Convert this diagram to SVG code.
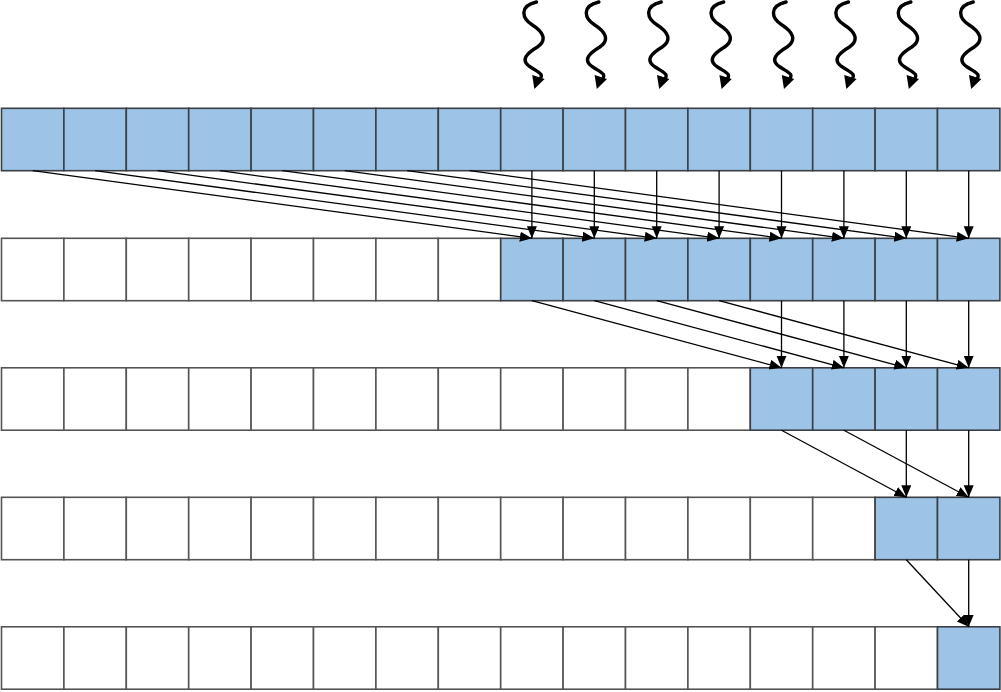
<svg xmlns="http://www.w3.org/2000/svg" xmlns:xlink="http://www.w3.org/1999/xlink" width="1001" height="692" viewBox="0 0 1001 692">
<style>
.b{fill:#9DC3E6;stroke:#3a3f46;stroke-width:1.6}
.w{fill:#ffffff;stroke:#555555;stroke-width:1.6}
.a{stroke:#000;stroke-width:1.3;fill:none;marker-end:url(#ah)}
.wv{stroke:#000;stroke-width:3.4;fill:none;stroke-linecap:round}
</style>
<defs>
<marker id="ah" markerUnits="userSpaceOnUse" markerWidth="14" markerHeight="12" refX="12" refY="5" orient="auto"><path d="M0,0 L12,5 L0,10 z" fill="#000"/></marker>
<g id="wave">
<path class="wv" d="M2,2 C-15,6 -13,18 -2,25 C9,32 13,40 3,47 C-7,53 -15,60 -4,67 C5,73 10,74 5,80"/>
<path d="M0,89 L-2.2,75 L10.2,79 z" fill="#000"/>
</g>
</defs>
<g id="row1">
<g id="r1c0"><rect class="b" x="1.5" y="108.3" width="62.4" height="62.4"/></g>
<g id="r1c1"><rect class="b" x="63.9" y="108.3" width="62.4" height="62.4"/></g>
<g id="r1c2"><rect class="b" x="126.3" y="108.3" width="62.4" height="62.4"/></g>
<g id="r1c3"><rect class="b" x="188.7" y="108.3" width="62.4" height="62.4"/></g>
<g id="r1c4"><rect class="b" x="251.1" y="108.3" width="62.4" height="62.4"/></g>
<g id="r1c5"><rect class="b" x="313.5" y="108.3" width="62.4" height="62.4"/></g>
<g id="r1c6"><rect class="b" x="375.9" y="108.3" width="62.4" height="62.4"/></g>
<g id="r1c7"><rect class="b" x="438.3" y="108.3" width="62.4" height="62.4"/></g>
<g id="r1c8"><rect class="b" x="500.7" y="108.3" width="62.4" height="62.4"/></g>
<g id="r1c9"><rect class="b" x="563.1" y="108.3" width="62.4" height="62.4"/></g>
<g id="r1c10"><rect class="b" x="625.5" y="108.3" width="62.4" height="62.4"/></g>
<g id="r1c11"><rect class="b" x="687.9" y="108.3" width="62.4" height="62.4"/></g>
<g id="r1c12"><rect class="b" x="750.3" y="108.3" width="62.4" height="62.4"/></g>
<g id="r1c13"><rect class="b" x="812.7" y="108.3" width="62.4" height="62.4"/></g>
<g id="r1c14"><rect class="b" x="875.1" y="108.3" width="62.4" height="62.4"/></g>
<g id="r1c15"><rect class="b" x="937.5" y="108.3" width="62.4" height="62.4"/></g>
</g>
<g id="row2">
<g id="r2c0"><rect class="w" x="1.5" y="238.3" width="62.4" height="62.4"/></g>
<g id="r2c1"><rect class="w" x="63.9" y="238.3" width="62.4" height="62.4"/></g>
<g id="r2c2"><rect class="w" x="126.3" y="238.3" width="62.4" height="62.4"/></g>
<g id="r2c3"><rect class="w" x="188.7" y="238.3" width="62.4" height="62.4"/></g>
<g id="r2c4"><rect class="w" x="251.1" y="238.3" width="62.4" height="62.4"/></g>
<g id="r2c5"><rect class="w" x="313.5" y="238.3" width="62.4" height="62.4"/></g>
<g id="r2c6"><rect class="w" x="375.9" y="238.3" width="62.4" height="62.4"/></g>
<g id="r2c7"><rect class="w" x="438.3" y="238.3" width="62.4" height="62.4"/></g>
<g id="r2c8"><rect class="b" x="500.7" y="238.3" width="62.4" height="62.4"/></g>
<g id="r2c9"><rect class="b" x="563.1" y="238.3" width="62.4" height="62.4"/></g>
<g id="r2c10"><rect class="b" x="625.5" y="238.3" width="62.4" height="62.4"/></g>
<g id="r2c11"><rect class="b" x="687.9" y="238.3" width="62.4" height="62.4"/></g>
<g id="r2c12"><rect class="b" x="750.3" y="238.3" width="62.4" height="62.4"/></g>
<g id="r2c13"><rect class="b" x="812.7" y="238.3" width="62.4" height="62.4"/></g>
<g id="r2c14"><rect class="b" x="875.1" y="238.3" width="62.4" height="62.4"/></g>
<g id="r2c15"><rect class="b" x="937.5" y="238.3" width="62.4" height="62.4"/></g>
</g>
<g id="row3">
<g id="r3c0"><rect class="w" x="1.5" y="367.8" width="62.4" height="62.4"/></g>
<g id="r3c1"><rect class="w" x="63.9" y="367.8" width="62.4" height="62.4"/></g>
<g id="r3c2"><rect class="w" x="126.3" y="367.8" width="62.4" height="62.4"/></g>
<g id="r3c3"><rect class="w" x="188.7" y="367.8" width="62.4" height="62.4"/></g>
<g id="r3c4"><rect class="w" x="251.1" y="367.8" width="62.4" height="62.4"/></g>
<g id="r3c5"><rect class="w" x="313.5" y="367.8" width="62.4" height="62.4"/></g>
<g id="r3c6"><rect class="w" x="375.9" y="367.8" width="62.4" height="62.4"/></g>
<g id="r3c7"><rect class="w" x="438.3" y="367.8" width="62.4" height="62.4"/></g>
<g id="r3c8"><rect class="w" x="500.7" y="367.8" width="62.4" height="62.4"/></g>
<g id="r3c9"><rect class="w" x="563.1" y="367.8" width="62.4" height="62.4"/></g>
<g id="r3c10"><rect class="w" x="625.5" y="367.8" width="62.4" height="62.4"/></g>
<g id="r3c11"><rect class="w" x="687.9" y="367.8" width="62.4" height="62.4"/></g>
<g id="r3c12"><rect class="b" x="750.3" y="367.8" width="62.4" height="62.4"/></g>
<g id="r3c13"><rect class="b" x="812.7" y="367.8" width="62.4" height="62.4"/></g>
<g id="r3c14"><rect class="b" x="875.1" y="367.8" width="62.4" height="62.4"/></g>
<g id="r3c15"><rect class="b" x="937.5" y="367.8" width="62.4" height="62.4"/></g>
</g>
<g id="row4">
<g id="r4c0"><rect class="w" x="1.5" y="497.3" width="62.4" height="62.4"/></g>
<g id="r4c1"><rect class="w" x="63.9" y="497.3" width="62.4" height="62.4"/></g>
<g id="r4c2"><rect class="w" x="126.3" y="497.3" width="62.4" height="62.4"/></g>
<g id="r4c3"><rect class="w" x="188.7" y="497.3" width="62.4" height="62.4"/></g>
<g id="r4c4"><rect class="w" x="251.1" y="497.3" width="62.4" height="62.4"/></g>
<g id="r4c5"><rect class="w" x="313.5" y="497.3" width="62.4" height="62.4"/></g>
<g id="r4c6"><rect class="w" x="375.9" y="497.3" width="62.4" height="62.4"/></g>
<g id="r4c7"><rect class="w" x="438.3" y="497.3" width="62.4" height="62.4"/></g>
<g id="r4c8"><rect class="w" x="500.7" y="497.3" width="62.4" height="62.4"/></g>
<g id="r4c9"><rect class="w" x="563.1" y="497.3" width="62.4" height="62.4"/></g>
<g id="r4c10"><rect class="w" x="625.5" y="497.3" width="62.4" height="62.4"/></g>
<g id="r4c11"><rect class="w" x="687.9" y="497.3" width="62.4" height="62.4"/></g>
<g id="r4c12"><rect class="w" x="750.3" y="497.3" width="62.4" height="62.4"/></g>
<g id="r4c13"><rect class="w" x="812.7" y="497.3" width="62.4" height="62.4"/></g>
<g id="r4c14"><rect class="b" x="875.1" y="497.3" width="62.4" height="62.4"/></g>
<g id="r4c15"><rect class="b" x="937.5" y="497.3" width="62.4" height="62.4"/></g>
</g>
<g id="row5">
<g id="r5c0"><rect class="w" x="1.5" y="626.8" width="62.4" height="62.4"/></g>
<g id="r5c1"><rect class="w" x="63.9" y="626.8" width="62.4" height="62.4"/></g>
<g id="r5c2"><rect class="w" x="126.3" y="626.8" width="62.4" height="62.4"/></g>
<g id="r5c3"><rect class="w" x="188.7" y="626.8" width="62.4" height="62.4"/></g>
<g id="r5c4"><rect class="w" x="251.1" y="626.8" width="62.4" height="62.4"/></g>
<g id="r5c5"><rect class="w" x="313.5" y="626.8" width="62.4" height="62.4"/></g>
<g id="r5c6"><rect class="w" x="375.9" y="626.8" width="62.4" height="62.4"/></g>
<g id="r5c7"><rect class="w" x="438.3" y="626.8" width="62.4" height="62.4"/></g>
<g id="r5c8"><rect class="w" x="500.7" y="626.8" width="62.4" height="62.4"/></g>
<g id="r5c9"><rect class="w" x="563.1" y="626.8" width="62.4" height="62.4"/></g>
<g id="r5c10"><rect class="w" x="625.5" y="626.8" width="62.4" height="62.4"/></g>
<g id="r5c11"><rect class="w" x="687.9" y="626.8" width="62.4" height="62.4"/></g>
<g id="r5c12"><rect class="w" x="750.3" y="626.8" width="62.4" height="62.4"/></g>
<g id="r5c13"><rect class="w" x="812.7" y="626.8" width="62.4" height="62.4"/></g>
<g id="r5c14"><rect class="w" x="875.1" y="626.8" width="62.4" height="62.4"/></g>
<g id="r5c15"><rect class="b" x="937.5" y="626.8" width="62.4" height="62.4"/></g>
</g>
<g id="inputs">
<use xlink:href="#wave" x="534.4" y="0"/>
<use xlink:href="#wave" x="596.8" y="0"/>
<use xlink:href="#wave" x="659.2" y="0"/>
<use xlink:href="#wave" x="721.6" y="0"/>
<use xlink:href="#wave" x="784" y="0"/>
<use xlink:href="#wave" x="846.4" y="0"/>
<use xlink:href="#wave" x="908.8" y="0"/>
<use xlink:href="#wave" x="971.2" y="0"/>
</g>
<g id="connectors">
<line class="a" x1="32.7" y1="170.7" x2="531.9" y2="238.3"/>
<line class="a" x1="95.1" y1="170.7" x2="594.3" y2="238.3"/>
<line class="a" x1="157.5" y1="170.7" x2="656.7" y2="238.3"/>
<line class="a" x1="219.9" y1="170.7" x2="719.1" y2="238.3"/>
<line class="a" x1="282.3" y1="170.7" x2="781.5" y2="238.3"/>
<line class="a" x1="344.7" y1="170.7" x2="843.9" y2="238.3"/>
<line class="a" x1="407.1" y1="170.7" x2="906.3" y2="238.3"/>
<line class="a" x1="469.5" y1="170.7" x2="968.7" y2="238.3"/>
<line class="a" x1="531.9" y1="170.7" x2="531.9" y2="238.3"/>
<line class="a" x1="594.3" y1="170.7" x2="594.3" y2="238.3"/>
<line class="a" x1="656.7" y1="170.7" x2="656.7" y2="238.3"/>
<line class="a" x1="719.1" y1="170.7" x2="719.1" y2="238.3"/>
<line class="a" x1="781.5" y1="170.7" x2="781.5" y2="238.3"/>
<line class="a" x1="843.9" y1="170.7" x2="843.9" y2="238.3"/>
<line class="a" x1="906.3" y1="170.7" x2="906.3" y2="238.3"/>
<line class="a" x1="968.7" y1="170.7" x2="968.7" y2="238.3"/>
<line class="a" x1="531.9" y1="300.7" x2="781.5" y2="367.8"/>
<line class="a" x1="594.3" y1="300.7" x2="843.9" y2="367.8"/>
<line class="a" x1="656.7" y1="300.7" x2="906.3" y2="367.8"/>
<line class="a" x1="719.1" y1="300.7" x2="968.7" y2="367.8"/>
<line class="a" x1="781.5" y1="300.7" x2="781.5" y2="367.8"/>
<line class="a" x1="843.9" y1="300.7" x2="843.9" y2="367.8"/>
<line class="a" x1="906.3" y1="300.7" x2="906.3" y2="367.8"/>
<line class="a" x1="968.7" y1="300.7" x2="968.7" y2="367.8"/>
<line class="a" x1="781.5" y1="430.2" x2="906.3" y2="497.3"/>
<line class="a" x1="843.9" y1="430.2" x2="968.7" y2="497.3"/>
<line class="a" x1="906.3" y1="430.2" x2="906.3" y2="497.3"/>
<line class="a" x1="968.7" y1="430.2" x2="968.7" y2="497.3"/>
<line class="a" x1="906.3" y1="559.7" x2="968.7" y2="626.8"/>
<line class="a" x1="968.7" y1="559.7" x2="968.7" y2="626.8"/>
</g>
</svg>
